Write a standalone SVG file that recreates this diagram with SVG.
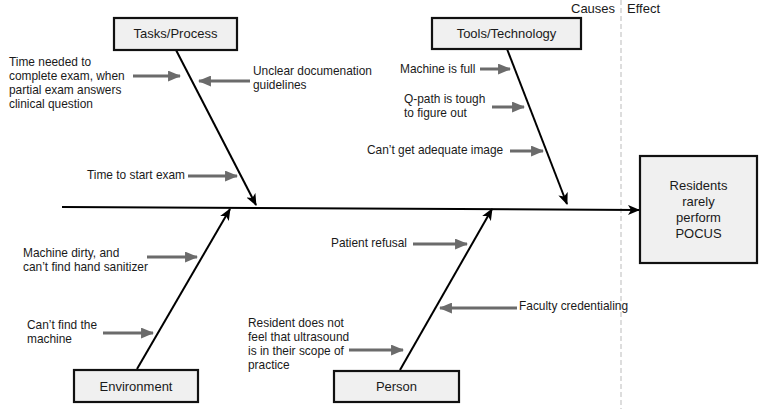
<svg xmlns="http://www.w3.org/2000/svg" width="763" height="409" viewBox="0 0 763 409">
<style>
.box{fill:#f0f0f0;stroke:#111;stroke-width:2.2}
.lbl{font-family:"Liberation Sans",Arial,sans-serif;font-size:13px;fill:#1a1a1a}
.t{font-family:"Liberation Sans",Arial,sans-serif;font-size:11.9px;fill:#1a1a1a}
.bone{stroke:#000;stroke-width:2;fill:none}
.ga{stroke:#6b6b6b;stroke-width:3;fill:none}
</style>
<defs>
<marker id="bh" viewBox="0 0 12 10" refX="11" refY="5" markerWidth="12" markerHeight="10" markerUnits="userSpaceOnUse" orient="auto">
<path d="M0,0 L12,5 L0,10 L3,5 z" fill="#000"/>
</marker>
<marker id="gh" viewBox="0 0 12 10" refX="11" refY="5" markerWidth="13" markerHeight="11" markerUnits="userSpaceOnUse" orient="auto">
<path d="M0,0 L12,5 L0,10 z" fill="#6b6b6b"/>
</marker>
</defs>
<line x1="621" y1="0" x2="621" y2="409" stroke="#bbb" stroke-width="1" stroke-dasharray="5,3"/>
<text class="lbl" x="571" y="13">Causes</text>
<text class="lbl" x="627" y="13">Effect</text>
<g id="connectors">
<line class="bone" x1="62" y1="207" x2="639" y2="210" marker-end="url(#bh)"/>
<line class="bone" x1="176" y1="50" x2="256" y2="205" marker-end="url(#bh)"/>
<line class="bone" x1="507" y1="49" x2="567" y2="204" marker-end="url(#bh)"/>
<line class="bone" x1="137" y1="369" x2="230" y2="209" marker-end="url(#bh)"/>
<line class="bone" x1="400" y1="370" x2="492" y2="209" marker-end="url(#bh)"/>
<line class="ga" x1="133" y1="76" x2="180" y2="76" marker-end="url(#gh)"/>
<line class="ga" x1="250" y1="81" x2="199" y2="81" marker-end="url(#gh)"/>
<line class="ga" x1="188" y1="176" x2="237" y2="176" marker-end="url(#gh)"/>
<line class="ga" x1="480" y1="69" x2="510" y2="69" marker-end="url(#gh)"/>
<line class="ga" x1="492" y1="107" x2="524" y2="107" marker-end="url(#gh)"/>
<line class="ga" x1="510" y1="151" x2="543" y2="151" marker-end="url(#gh)"/>
<line class="ga" x1="147" y1="257" x2="197" y2="257" marker-end="url(#gh)"/>
<line class="ga" x1="103" y1="333" x2="153" y2="333" marker-end="url(#gh)"/>
<line class="ga" x1="413" y1="244" x2="467" y2="244" marker-end="url(#gh)"/>
<line class="ga" x1="517" y1="308" x2="440" y2="308" marker-end="url(#gh)"/>
<line class="ga" x1="349" y1="350" x2="403" y2="350" marker-end="url(#gh)"/>
</g>
<g id="tasks">
<rect class="box" x="114" y="18" width="123" height="32"/>
<text class="lbl" x="175.5" y="38" text-anchor="middle">Tasks/Process</text>
</g>
<g id="tools">
<rect class="box" x="432" y="18" width="149" height="31"/>
<text class="lbl" x="506.5" y="38" text-anchor="middle">Tools/Technology</text>
</g>
<g id="environment">
<rect class="box" x="74" y="370" width="124" height="32"/>
<text class="lbl" x="136" y="391" text-anchor="middle">Environment</text>
</g>
<g id="person">
<rect class="box" x="334" y="371" width="125" height="31"/>
<text class="lbl" x="396.5" y="391" text-anchor="middle">Person</text>
</g>
<g id="effect">
<rect class="box" x="640" y="156" width="117" height="107"/>
<text class="lbl" text-anchor="middle"><tspan x="698.5" y="190">Residents</tspan><tspan x="698.5" y="206">rarely</tspan><tspan x="698.5" y="222">perform</tspan><tspan x="698.5" y="238">POCUS</tspan></text>
</g>
<g id="causes">
<text class="t"><tspan x="9" y="66">Time needed to</tspan><tspan x="9" y="80">complete exam, when</tspan><tspan x="9" y="94">partial exam answers</tspan><tspan x="9" y="108">clinical question</tspan></text>
<text class="t"><tspan x="253" y="75">Unclear documenation</tspan><tspan x="253" y="89">guidelines</tspan></text>
<text class="t" x="87" y="179">Time to start exam</text>
<text class="t" x="400" y="73">Machine is full</text>
<text class="t"><tspan x="404" y="103">Q-path is tough</tspan><tspan x="404" y="117">to figure out</tspan></text>
<text class="t" x="367" y="154">Can’t get adequate image</text>
<text class="t"><tspan x="23" y="257">Machine dirty, and</tspan><tspan x="23" y="271">can’t find hand sanitizer</tspan></text>
<text class="t"><tspan x="27" y="329">Can’t find the</tspan><tspan x="27" y="343">machine</tspan></text>
<text class="t" x="331" y="247">Patient refusal</text>
<text class="t" x="519" y="310">Faculty credentialing</text>
<text class="t"><tspan x="248" y="327">Resident does not</tspan><tspan x="248" y="341">feel that ultrasound</tspan><tspan x="248" y="355">is in their scope of</tspan><tspan x="248" y="369">practice</tspan></text>
</g>
</svg>
